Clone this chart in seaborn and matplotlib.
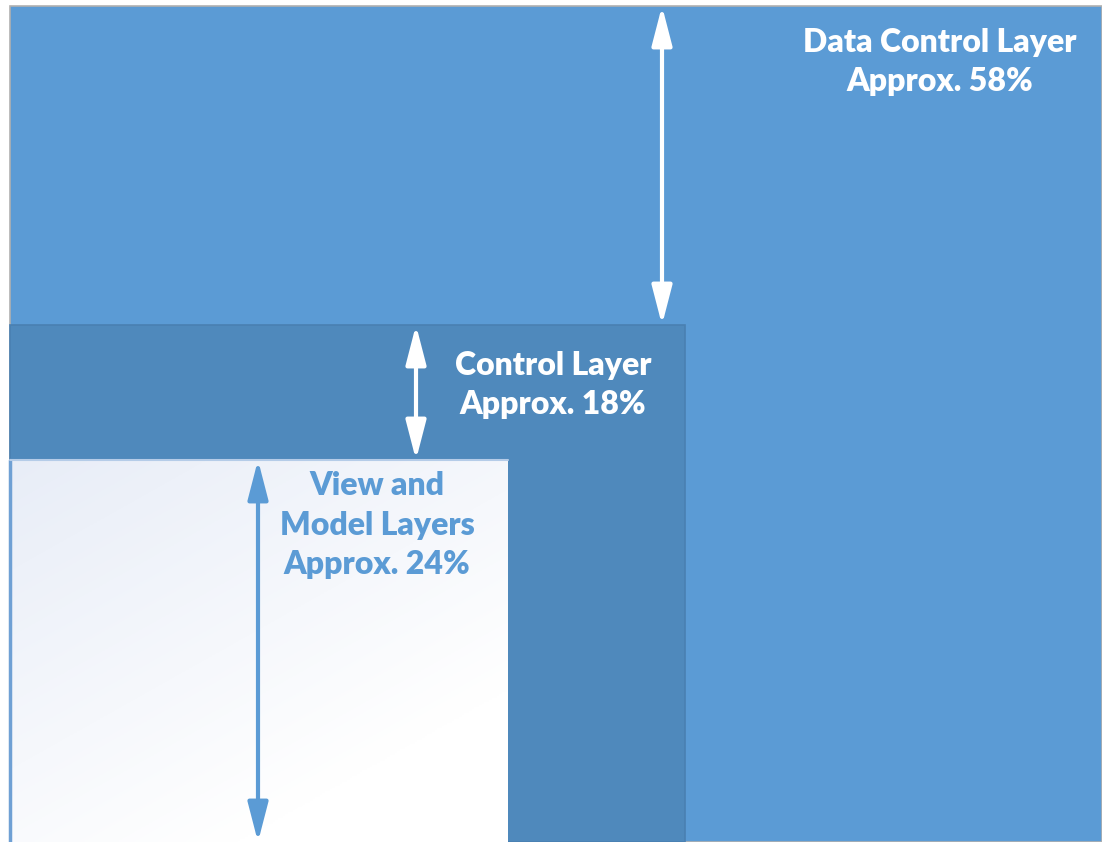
import matplotlib
matplotlib.use("Agg")
import matplotlib.pyplot as plt
import seaborn as sns
import numpy as np
from matplotlib.patches import Rectangle

# Layer data
layer_names = ["Data Control Layer", "Control Layer", "View and\nModel Layers"]
layer_shares = [58, 18, 24]

# Geometry in pixel units (layout only)
W, H = 1102, 842
rects = [(10, 6, 1092, 836), (10, 325, 675, 517), (10, 460, 498, 382)]
fills = ["#5B9BD5", "#4F89BC", None]
edges = ["#B0B0B0", "#4A80B2", "#8DB3DD"]
arrow_x = [662, 416, 258]
arrow_col = ["white", "white", "#5B9BD5"]
label_pos = [(940, 62), (553, 385), (377, 525)]
label_col = ["white", "white", "#5B9BD5"]

sns.set_theme(style="white")
plt.rcParams["font.family"] = ["Lato", "DejaVu Sans"]

fig = plt.figure(figsize=(W / 100, H / 100), dpi=100)
ax = fig.add_axes([0, 0, 1, 1])
ax.set_xlim(0, W)
ax.set_ylim(H, 0)
ax.axis("off")

for i, (x, y, w, h) in enumerate(rects):
    if fills[i] is None:
        # soft diagonal gradient for the innermost block
        gx, gy = np.meshgrid(np.linspace(0, 1, 200), np.linspace(0, 1, 200))
        t = np.clip(0.55 * gx + 0.75 * gy, 0, 1)
        c0 = np.array([0.91, 0.93, 0.97])
        c1 = np.array([1.0, 1.0, 1.0])
        img = c0[None, None, :] * (1 - t[..., None]) + c1[None, None, :] * t[..., None]
        ax.imshow(img, extent=(x, x + w, y + h, y), aspect="auto", zorder=2 + i)
        ax.plot([x, x], [y, y + h], color="#6FA0D4", lw=2.5, zorder=3 + i)
        ax.plot([x, x + w], [y, y], color="#B5CCE8", lw=1.5, zorder=3 + i)
    else:
        ax.add_patch(Rectangle((x, y), w, h, facecolor=fills[i], edgecolor=edges[i],
                               lw=1.2, zorder=2 + i))

# double-headed arrows spanning each band
bands = [(6, 325), (325, 460), (460, 842)]
for i, (y0, y1) in enumerate(bands):
    ax.annotate("", xy=(arrow_x[i], y0), xytext=(arrow_x[i], y1),
                arrowprops=dict(arrowstyle="<|-|>,head_length=0.85,head_width=0.22",
                                color=arrow_col[i], lw=3,
                                mutation_scale=28, shrinkA=0, shrinkB=0),
                zorder=10)

for i, name in enumerate(layer_names):
    ax.text(label_pos[i][0], label_pos[i][1], f"{name}\nApprox. {layer_shares[i]}%",
            ha="center", va="center", color=label_col[i], fontsize=23,
            fontweight="heavy", linespacing=1.45, zorder=11)

fig.savefig("out.png", dpi=100, facecolor="white")
